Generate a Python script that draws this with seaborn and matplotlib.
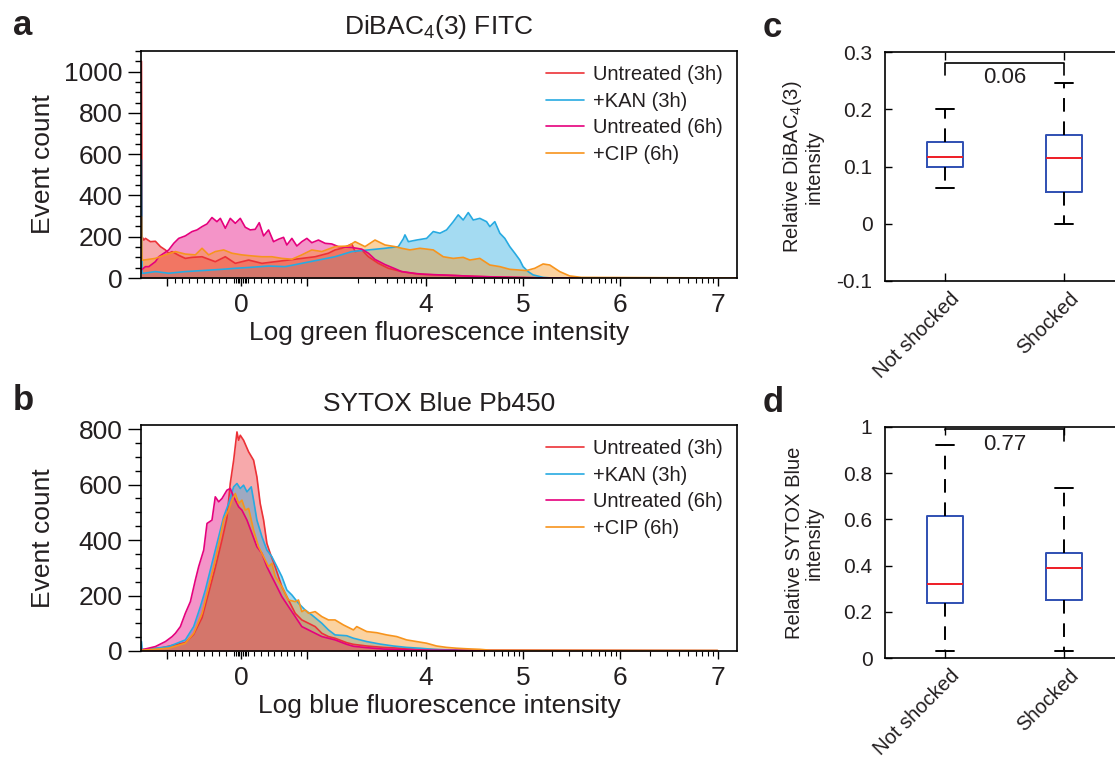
import numpy as np
import pandas as pd
import matplotlib
matplotlib.use("Agg")
import matplotlib.pyplot as plt
import matplotlib.transforms as mtransforms
import seaborn as sns

# ---------------- data ----------------
series_labels = ["Untreated (3h)", "+KAN (3h)", "Untreated (6h)", "+CIP (6h)"]
series_colors = ["#ec3237", "#27aae1", "#e5007d", "#f7941d"]

# x values are positions on the (logicle) fluorescence axis, in decades (tick "4" = 4 ...)
# Panel a : DiBAC4(3) FITC
a_u3h_x = [1.075, 1.081, 1.099, 1.116, 1.167, 1.218, 1.270, 1.321, 1.355, 1.390, 1.458, 1.526, 1.595, 1.698,
           1.834, 1.937, 2.040, 2.177, 2.314, 2.450, 2.587, 2.724, 2.861, 2.998, 3.066, 3.135, 3.169, 3.238,
           3.272, 3.340, 3.409, 3.511, 3.614, 3.751, 3.922, 4.093, 4.300, 4.500, 4.700, 4.900, 5.100, 5.300, 7.19]
a_u3h_y = [1050, 200, 184, 192, 176, 178, 152, 136, 120, 128, 110, 95, 100, 103,
           79, 103, 71, 87, 71, 79, 87, 95, 103, 120, 136, 144, 150, 165,
           128, 136, 103, 71, 47, 31, 19, 15, 12, 8, 5, 3, 2, 0, 0]

a_kan_x = [1.075, 1.081, 1.099, 1.218, 1.355, 1.526, 1.698, 1.903, 2.040, 2.211, 2.382, 2.553, 2.724, 2.895,
           3.066, 3.238, 3.409, 3.580, 3.717, 3.768, 3.785, 3.820, 3.905, 4.008, 4.076, 4.145, 4.213, 4.282,
           4.333, 4.384, 4.436, 4.487, 4.555, 4.624, 4.658, 4.709, 4.761, 4.812, 4.863, 4.915, 4.966, 5.000,
           5.052, 5.103, 5.206, 5.300, 7.19]
a_kan_y = [572, 23, 23, 31, 23, 31, 36, 42, 47, 52, 58, 55, 71, 87,
           103, 128, 136, 144, 152, 190, 209, 176, 184, 192, 225, 217, 233, 273,
           306, 281, 317, 281, 289, 273, 249, 273, 217, 192, 152, 120, 87, 55,
           31, 15, 3, 0, 0]

a_u6h_x = [1.075, 1.116, 1.150, 1.218, 1.253, 1.355, 1.407, 1.458, 1.526, 1.595, 1.646, 1.698, 1.749, 1.800,
           1.851, 1.886, 1.937, 1.988, 2.040, 2.091, 2.142, 2.194, 2.245, 2.286, 2.331, 2.382, 2.433, 2.485,
           2.536, 2.570, 2.622, 2.673, 2.724, 2.776, 2.827, 2.895, 2.964, 3.032, 3.101, 3.169, 3.238, 3.340,
           3.409, 3.477, 3.580, 3.682, 3.751, 3.888, 3.990, 4.200, 4.500, 4.800, 5.100, 5.300, 7.19]
a_u6h_y = [40, 55, 55, 79, 103, 136, 168, 192, 204, 225, 233, 249, 262, 293,
           273, 289, 241, 289, 265, 289, 246, 233, 236, 268, 204, 233, 176, 188,
           197, 160, 192, 155, 176, 192, 171, 184, 168, 165, 152, 150, 148, 140,
           120, 90, 65, 45, 31, 22, 18, 14, 8, 4, 1, 0, 0]

a_cip_x = [1.075, 1.081, 1.099, 1.218, 1.321, 1.424, 1.526, 1.629, 1.698, 1.766, 1.834, 1.920, 2.006, 2.108,
           2.211, 2.314, 2.416, 2.519, 2.622, 2.724, 2.827, 2.930, 3.066, 3.203, 3.272, 3.374, 3.477, 3.580,
           3.682, 3.751, 3.837, 3.939, 4.076, 4.179, 4.282, 4.384, 4.453, 4.555, 4.658, 4.761, 4.863, 4.949,
           5.034, 5.120, 5.206, 5.274, 5.377, 5.479, 5.600, 7.19]
a_cip_y = [296, 87, 87, 95, 112, 128, 116, 112, 144, 112, 128, 136, 120, 112,
           107, 103, 103, 95, 91, 112, 136, 128, 152, 155, 176, 152, 184, 160,
           152, 144, 136, 144, 136, 103, 95, 100, 87, 95, 63, 55, 42, 39,
           36, 47, 68, 63, 31, 10, 3, 0]

# Panel b : SYTOX Blue Pb450
b_u3h_x = [1.075, 1.150, 1.287, 1.390, 1.458, 1.526, 1.612, 1.698, 1.766, 1.834, 1.903, 1.954, 1.988, 2.023,
           2.057, 2.074, 2.091, 2.125, 2.177, 2.228, 2.262, 2.296, 2.331, 2.365, 2.399, 2.450, 2.519, 2.587,
           2.656, 2.724, 2.793, 2.861, 2.930, 2.998, 3.066, 3.186, 3.255, 3.392, 3.563, 3.734, 3.905, 4.076,
           4.247, 4.500, 7.0]
b_u3h_y = [5, 6, 12, 20, 25, 30, 60, 120, 210, 300, 400, 480, 604, 688,
           790, 760, 778, 760, 718, 688, 628, 532, 472, 388, 352, 304, 232, 184,
           136, 112, 100, 88, 64, 52, 46, 30, 24, 18, 13, 10, 7, 5,
           3, 1, 1]

b_kan_x = [1.075, 1.081, 1.100, 1.355, 1.526, 1.612, 1.681, 1.732, 1.800, 1.869, 1.920, 1.971, 2.023, 2.057,
           2.091, 2.125, 2.160, 2.204, 2.228, 2.262, 2.314, 2.365, 2.416, 2.468, 2.519, 2.570, 2.622, 2.690,
           2.758, 2.827, 2.930, 2.998, 3.066, 3.186, 3.255, 3.392, 3.529, 3.666, 3.802, 3.939, 4.076, 4.247,
           4.418, 4.600, 7.0]
b_kan_y = [34, 8, 4, 16, 40, 88, 160, 220, 316, 412, 484, 532, 592, 604,
           586, 598, 574, 592, 544, 472, 412, 364, 340, 304, 268, 220, 202, 172,
           148, 130, 100, 76, 58, 55, 46, 34, 25, 18, 13, 10, 6, 4,
           2, 1, 1]

b_u6h_x = [1.075, 1.218, 1.321, 1.390, 1.424, 1.475, 1.526, 1.578, 1.629, 1.663, 1.715, 1.749, 1.800, 1.834,
           1.869, 1.903, 1.954, 1.988, 2.023, 2.074, 2.108, 2.160, 2.211, 2.262, 2.314, 2.365, 2.416, 2.468,
           2.519, 2.587, 2.656, 2.724, 2.793, 2.861, 2.930, 2.998, 3.066, 3.186, 3.255, 3.392, 3.563, 3.734,
           3.900, 7.0]
b_u6h_y = [4, 16, 34, 52, 64, 88, 136, 178, 256, 304, 364, 460, 472, 556,
           538, 550, 580, 586, 556, 520, 508, 472, 424, 376, 352, 304, 268, 232,
           196, 160, 124, 88, 76, 64, 52, 46, 40, 24, 17, 12, 7, 5,
           3, 1]

b_cip_x = [1.075, 1.355, 1.526, 1.612, 1.698, 1.766, 1.834, 1.886, 1.920, 1.971, 2.006, 2.040, 2.074, 2.108,
           2.142, 2.177, 2.228, 2.279, 2.331, 2.382, 2.416, 2.450, 2.519, 2.587, 2.656, 2.690, 2.724, 2.758,
           2.793, 2.861, 2.930, 2.998, 3.066, 3.152, 3.255, 3.289, 3.392, 3.494, 3.597, 3.700, 3.802, 3.905,
           4.008, 4.110, 4.213, 4.316, 4.418, 4.555, 4.658, 7.0]
b_cip_y = [3, 10, 28, 64, 136, 232, 328, 412, 472, 508, 544, 568, 532, 544,
           508, 514, 436, 376, 340, 304, 316, 268, 232, 184, 178, 184, 142, 148,
           136, 142, 124, 112, 112, 94, 76, 88, 70, 66, 58, 52, 40, 34,
           28, 18, 13, 10, 8, 6, 3, 2]

# Box plots: five-number summaries (min, q1, median, q3, max)
box_groups = ["Not shocked", "Shocked"]
c_not_shocked = [0.062, 0.100, 0.116, 0.142, 0.201]
c_shocked = [0.000, 0.055, 0.115, 0.155, 0.246]
d_not_shocked = [0.029, 0.240, 0.321, 0.614, 0.924]
d_shocked = [0.029, 0.250, 0.388, 0.456, 0.738]
c_pvalue, d_pvalue = "0.06", "0.77"
# significance bracket: left leg bottom, right leg bottom, bar height, p-value text height
c_bracket = [0.259, 0.259, 0.281, 0.255]
d_bracket = [0.985, 0.940, 0.993, 0.923]

# x-axis tick labels of the fluorescence axis
x_zero = 2.1
x_major = [1.34, x_zero, 2.78, 4, 5, 6, 7]
x_major_labels = ["", "0", "", "4", "5", "6", "7"]

# ---------------- style ----------------
sns.set_theme(style="ticks")
TXT = "#231f20"
plt.rcParams.update({
    "font.family": ["Liberation Sans", "DejaVu Sans"],
    "mathtext.fontset": "custom",
    "mathtext.rm": "Liberation Sans",
    "mathtext.it": "Liberation Sans:italic",
    "mathtext.bf": "Liberation Sans:bold",
    "text.color": TXT, "axes.labelcolor": TXT,
    "xtick.color": "black", "ytick.color": "black",
    "xtick.labelcolor": TXT, "ytick.labelcolor": TXT,
    "axes.edgecolor": "black", "axes.linewidth": 1.2,
})

W, H = 1115, 761
fig = plt.figure(figsize=(W / 100, H / 100), dpi=100)

ax_a = fig.add_axes([141 / W, 1 - 278 / H, 596 / W, 227 / H])
ax_b = fig.add_axes([141 / W, 1 - 651 / H, 596 / W, 226 / H])
ax_c = fig.add_axes([885 / W, 1 - 281 / H, 239 / W, 229 / H])
ax_d = fig.add_axes([885 / W, 1 - 658 / H, 239 / W, 231 / H])

# minor ticks of logicle axis
x_minor = []
for m in range(1, 5):
    x_minor += [x_zero + 0.018 * m, x_zero - 0.018 * m]
for m in range(2, 10):
    x_minor += [x_zero + m * (2.78 - x_zero) / 10, x_zero - m * (x_zero - 1.34) / 10]
for k in range(3, 7):
    for m in range(2, 10):
        v = k + np.log10(m)
        if v > 2.9:
            x_minor.append(v)


def hist_panel(ax, data, xlabel, ylim, ymajor):
    for (xs, ys), lab, col in zip(data, series_labels, series_colors):
        ax.fill_between(xs, ys, 0, color=col, alpha=0.42, linewidth=0)
        sns.lineplot(x=xs, y=ys, color=col, linewidth=1.2, ax=ax, label=lab,
                     sort=False, estimator=None)
    ax.set_xlim(1.07, 7.2)
    ax.set_ylim(*ylim)
    ax.set_yticks(ymajor)
    ax.set_yticks(np.arange(0, ylim[1] + 1, 50), minor=True)
    ax.set_xticks(x_major)
    ax.set_xticklabels(x_major_labels)
    ax.set_xticks(x_minor, minor=True)
    ax.tick_params(axis="y", which="major", direction="out", length=9.5, width=1, labelsize=19, pad=4)
    ax.tick_params(axis="y", which="minor", direction="out", length=4, width=1)
    ax.tick_params(axis="x", which="major", direction="out", length=6, width=1, labelsize=19, pad=5)
    ax.tick_params(axis="x", which="minor", direction="out", length=3.5, width=0.8)
    ax.set_xlabel(xlabel, fontsize=19, labelpad=3)
    ax.set_ylabel("Event count", fontsize=19)
    ax.yaxis.set_label_coords(-0.145, 0.5)
    for s in ax.spines.values():
        s.set_visible(True)
        s.set_linewidth(1.2)
    ax.legend(loc="upper right", bbox_to_anchor=(1.0, 1.0), frameon=False, fontsize=14.5,
              handlelength=1.9, handletextpad=0.45, labelspacing=0.38, borderaxespad=0.3)


hist_panel(ax_a, [(a_u3h_x, a_u3h_y), (a_kan_x, a_kan_y), (a_u6h_x, a_u6h_y), (a_cip_x, a_cip_y)],
           "Log green fluorescence intensity", (0, 1100), [0, 200, 400, 600, 800, 1000])
hist_panel(ax_b, [(b_u3h_x, b_u3h_y), (b_kan_x, b_kan_y), (b_u6h_x, b_u6h_y), (b_cip_x, b_cip_y)],
           "Log blue fluorescence intensity", (0, 815), [0, 200, 400, 600, 800])

fig.text(439 / W, 1 - 34 / H, r"DiBAC$_4$(3) FITC", fontsize=19, ha="center", va="baseline")
fig.text(439 / W, 1 - 411 / H, "SYTOX Blue Pb450", fontsize=19, ha="center", va="baseline")

BLUE = "#2f4fb2"
MED = "#ee1c25"


def box_panel(ax, vals_not, vals_shk, ylim, yticks, yticklabels, ylabel, pval, bracket):
    df = pd.DataFrame({
        "group": [box_groups[0]] * len(vals_not) + [box_groups[1]] * len(vals_shk),
        "value": list(vals_not) + list(vals_shk),
    })
    sns.boxplot(data=df, x="group", y="value", order=box_groups, ax=ax, width=0.3, fill=False,
                color=BLUE, whis=(0, 100), showfliers=False, linewidth=1.4,
                boxprops={"color": BLUE, "linewidth": 1.4},
                medianprops={"color": MED, "linewidth": 1.4},
                whiskerprops={"color": "black", "linestyle": (0, (7, 5)), "linewidth": 1.4},
                capprops={"color": "black", "linewidth": 1.4})
    ax.set_xlim(-0.5, 1.5)
    ax.set_ylim(*ylim)
    ax.set_yticks(yticks)
    ax.set_yticklabels(yticklabels)
    ax.set_xlabel("")
    ax.set_ylabel(ylabel, fontsize=14.5, linespacing=1.1)
    ax.yaxis.set_label_coords(-0.255, 0.5)
    ax.tick_params(axis="y", direction="in", length=5, width=1, labelsize=15, pad=9, right=True)
    ax.tick_params(axis="x", direction="in", length=6, width=1, labelsize=14.5, pad=6, top=True)
    shift = mtransforms.ScaledTranslation(5 / 100, 0, fig.dpi_scale_trans)
    for lab in ax.get_xticklabels():
        lab.set_rotation(45)
        lab.set_ha("right")
        lab.set_va("top")
        lab.set_rotation_mode("anchor")
        lab.set_transform(lab.get_transform() + shift)
    for s in ax.spines.values():
        s.set_visible(True)
        s.set_linewidth(1.2)
    # significance bracket
    ax.plot([0, 0, 1, 1], [bracket[0], bracket[2], bracket[2], bracket[1]], color="black",
            linewidth=1.2, clip_on=False)
    ax.text(0.5, bracket[3], pval, ha="center", va="center", fontsize=16)


box_panel(ax_c, c_not_shocked, c_shocked, (-0.1, 0.3), [-0.1, 0, 0.1, 0.2, 0.3],
          ["-0.1", "0", "0.1", "0.2", "0.3"], "Relative DiBAC$_4$(3)\nintensity", c_pvalue, c_bracket)
box_panel(ax_d, d_not_shocked, d_shocked, (0, 1), [0, 0.2, 0.4, 0.6, 0.8, 1],
          ["0", "0.2", "0.4", "0.6", "0.8", "1"], "Relative SYTOX Blue\nintensity", d_pvalue, d_bracket)

for letter, x, y in [("a", 13, 35), ("b", 13, 410), ("c", 763, 37), ("d", 763, 412)]:
    fig.text(x / W, 1 - y / H, letter, fontsize=25, fontweight="bold", ha="left", va="baseline",
             color="#231f20")

fig.savefig("out.png", dpi=100)
